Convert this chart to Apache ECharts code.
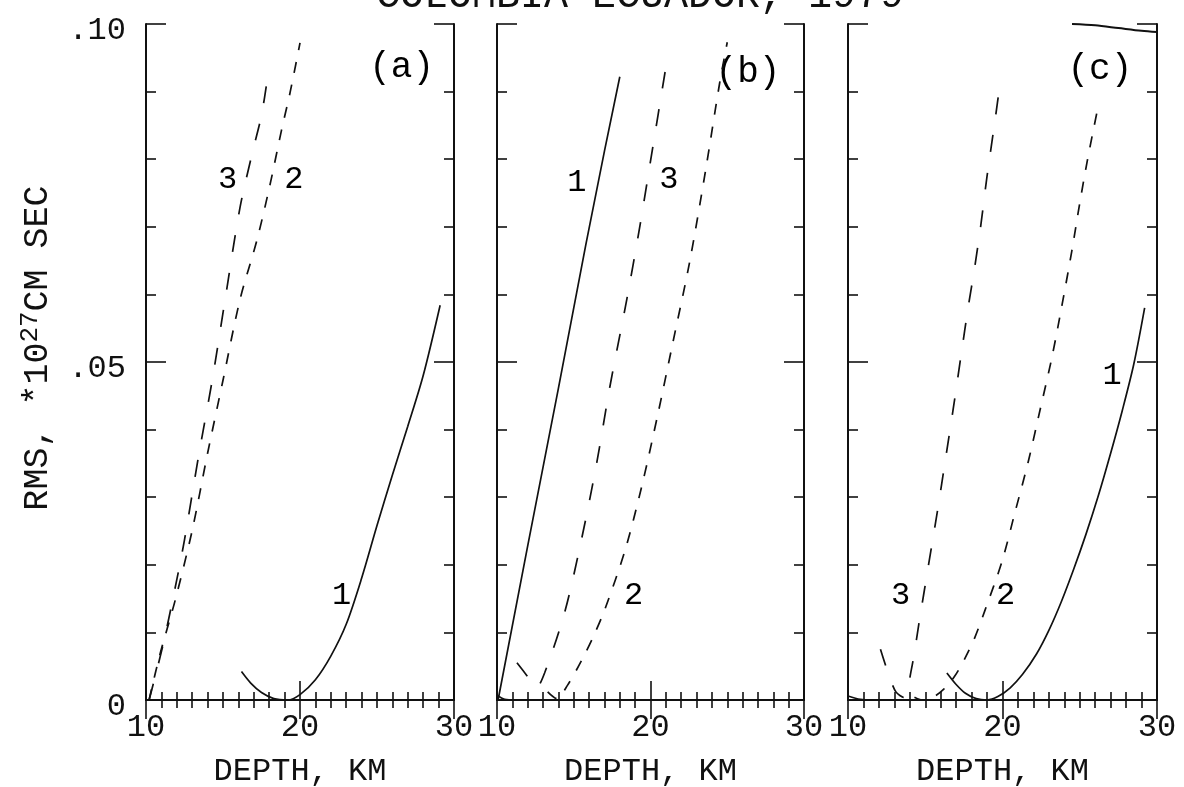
<!DOCTYPE html>
<html>
<head>
<meta charset="utf-8">
<script src="https://cdn.jsdelivr.net/npm/echarts@6/dist/echarts.min.js"></script>
<style>
html,body{margin:0;padding:0;background:#fff;}
#chart{width:1184px;height:787px;}
</style>
</head>
<body>
<div id="chart"></div>
<script>
// ---------- data ----------
const titleText = 'COLOMBIA-ECUADOR, 1979';
const xAxisName = 'DEPTH, KM';
const yTickLabels = ['0', '.05', '.10'];
const panelNames = ['(a)', '(b)', '(c)'];

// Panel (a)
const a1 = [[16.2,0.0042],[16.8,0.0025],[17.5,0.0011],[18.3,0.0002],[19.2,0.0],[20.0,0.0008],[21.0,0.003],[22.0,0.0065],[23.0,0.0112],[24.0,0.018],[25.0,0.0258],[26.0,0.0333],[27.0,0.0405],[28.0,0.048],[29.1,0.0584]];
const a2 = [[10.2,0.0],[10.9,0.0067],[11.9,0.0148],[13.0,0.0251],[14.0,0.0365],[15.0,0.0473],[16.1,0.0592],[17.2,0.068],[18.05,0.0762],[18.8,0.0843],[19.35,0.0898],[20.0,0.0972]];
const a3 = [[10.2,0.0],[11.1,0.0081],[12.0,0.0178],[12.5,0.0237],[13.4,0.0359],[14.3,0.0473],[15.1,0.0587],[16.1,0.0728],[16.9,0.0809],[17.5,0.0865],[17.9,0.0922]];
const aLabels = [['3',15.3,0.077],['2',19.6,0.077],['1',22.7,0.0155]];

// Panel (b)
const b1 = [[10.07,0.0],[12.0,0.0228],[14.0,0.0461],[15.8,0.0675],[17.0,0.0812],[18.0,0.0922]];
const b1low = [[10.0,0.0007],[10.5,0.0001],[11.2,0.0]];
const b2 = [[13.3,0.0012],[13.9,0.0002],[14.6,0.0022],[15.5,0.0058],[16.3,0.0095],[17.04,0.0135],[18.35,0.0222],[19.45,0.0318],[20.5,0.0425],[21.45,0.0528],[22.55,0.0648],[23.6,0.0785],[24.5,0.0912],[25.0,0.0973]];
const b3 = [[11.3,0.0055],[11.95,0.0036],[12.55,0.0018],[13.1,0.004],[14.4,0.0129],[15.5,0.0237],[16.5,0.0351],[17.35,0.0463],[18.45,0.0592],[19.3,0.07],[20.15,0.0818],[20.95,0.0929]];
const bLabels = [['1',15.2,0.0766],['3',21.2,0.077],['2',18.9,0.0155]];

// Panel (c)
const c1 = [[16.4,0.004],[17.0,0.0023],[17.6,0.001],[18.3,0.0002],[19.0,0.0],[19.7,0.0005],[20.5,0.0018],[21.3,0.0038],[22.2,0.0068],[23.0,0.0103],[23.8,0.0145],[24.6,0.0193],[25.4,0.0245],[26.2,0.0302],[27.0,0.0365],[27.75,0.0428],[28.5,0.0497],[29.2,0.058]];
const c1low = [[10.0,0.0006],[10.8,0.0001],[11.6,0.0]];
const cTop = [[24.5,0.1],[26.0,0.0998],[27.5,0.0994],[29.0,0.099],[30.0,0.0988]];
const c2 = [[14.3,0.0004],[14.8,0.0],[15.5,0.0004],[16.2,0.0016],[16.9,0.0035],[17.6,0.0063],[18.2,0.0092],[18.87,0.0133],[19.97,0.0205],[20.8,0.0277],[21.65,0.0351],[22.43,0.0429],[23.2,0.0507],[23.85,0.0584],[24.5,0.0666],[25.0,0.0735],[25.5,0.0799],[26.1,0.0868]];
const c3 = [[12.1,0.0075],[12.6,0.004],[13.1,0.0012],[13.6,0.0004],[14.1,0.0045],[14.66,0.0123],[15.2,0.0198],[15.8,0.0281],[16.3,0.0355],[16.8,0.0429],[17.3,0.0507],[17.8,0.0584],[18.2,0.064],[18.6,0.0703],[19.0,0.0775],[19.5,0.0855],[19.9,0.0922]];
const cLabels = [['1',27.1,0.048],['3',13.4,0.0155],['2',20.2,0.0155]];

const panelLabelPos = [[26.6,0.0935],[26.35,0.0929],[26.3,0.0932]];

// ---------- layout ----------
const FONT = 'Liberation Mono';
const INK = '#111';
const FS = 32;
const grids = [
  {left:146, top:24, width:308, height:676, outerBoundsMode:'none'},
  {left:497, top:24, width:307, height:676, outerBoundsMode:'none'},
  {left:848, top:24, width:309, height:676, outerBoundsMode:'none'}
];

const chart = echarts.init(document.getElementById('chart'));

const xAxes = [], yAxes = [], series = [];
grids.forEach((g, i) => {
  const common = {
    type:'value', min:10, max:30, interval:10, gridIndex:i,
    axisLine:{show:true, lineStyle:{color:INK, width:2}},
    splitLine:{show:false},
    axisTick:{show:true, inside:true, length:19, lineStyle:{color:INK, width:1.6}},
    minorTick:{show:true, splitNumber:10, length:8, lineStyle:{color:INK, width:1.6}}
  };
  xAxes.push(Object.assign({}, common, {
    position:'bottom',
    name:xAxisName, nameLocation:'middle', nameGap:56,
    nameTextStyle:{fontFamily:FONT, fontSize:FS, color:INK},
    axisLabel:{show:true, margin:12, fontFamily:FONT, fontSize:FS, color:INK,
      formatter: v => String(v)}
  }));
  xAxes.push(Object.assign({}, common, {position:'top', axisLabel:{show:false}}));
  const ycommon = {
    type:'value', min:0, max:0.1, interval:0.05, gridIndex:i,
    axisLine:{show:true, lineStyle:{color:INK, width:2}},
    splitLine:{show:false},
    axisTick:{show:true, inside:true, length:20, lineStyle:{color:INK, width:1.6}},
    minorTick:{show:true, splitNumber:5, length:10, lineStyle:{color:INK, width:1.6}}
  };
  const left = Object.assign({}, ycommon, {position:'left',
    axisLabel:{show:i===0, margin:20, fontFamily:FONT, fontSize:FS, color:INK,
      verticalAlign:'top', lineHeight:14,
      formatter: v => yTickLabels[Math.round(v/0.05)]}
  });
  if (i === 0) {
    left.name = '{n|RMS, *10}{s|27}{n|CM SEC}';
    left.nameLocation = 'middle';
    left.nameGap = 88;
    left.nameTextStyle = {padding:[0,0,0,28], rich:{
      n:{fontFamily:FONT, fontSize:35, color:INK},
      s:{fontFamily:FONT, fontSize:26, color:INK, verticalAlign:'top', padding:[0,0,15,0]}
    }};
  }
  yAxes.push(left);
  yAxes.push(Object.assign({}, ycommon, {position:'right', axisLabel:{show:false}}));
});

function curve(data, i, dash, width, smooth) {
  return {
    type:'line', data:data, xAxisIndex:2*i, yAxisIndex:2*i,
    showSymbol:false, symbol:'none', smooth:(smooth===undefined?0.3:smooth), silent:true,
    lineStyle:{color:INK, width:width||1.7, type:dash||'solid'},
    animation:false, clip:true
  };
}
const LONG = [17,21], SHORT = [11,12];
series.push(curve(a1,0), curve(a2,0,SHORT), curve(a3,0,LONG));
series.push(curve(b1,1,'solid',1.7,false), curve(b1low,1), curve(b2,1,SHORT), curve(b3,1,LONG));
series.push(curve(c1,2), curve(c1low,2), curve(cTop,2,'solid',2), curve(c2,2,SHORT), curve(c3,2,LONG));

function labels(list, i, fs) {
  return {
    type:'scatter', xAxisIndex:2*i, yAxisIndex:2*i, symbolSize:0, silent:true, animation:false,
    itemStyle:{opacity:1},
    data:list.map(l => ({name:l[0], value:[l[1], l[2]]})),
    label:{show:true, position:'inside', formatter: p => p.name, opacity:1,
      fontFamily:FONT, fontSize:fs||FS, color:'#000', textBorderWidth:0}
  };
}
series.push(labels(aLabels,0), labels(bLabels,1), labels(cLabels,2));
series.push(...panelNames.map((n, i) => labels([[n, panelLabelPos[i][0], panelLabelPos[i][1]]], i, 36)));

chart.setOption({
  backgroundColor:'#fff',
  animation:false,
  grid:grids,
  xAxis:xAxes,
  yAxis:yAxes,
  series:series,
  graphic:[{type:'text', x:640, y:-4,
    style:{text:titleText, fontFamily:FONT, fontSize:40, fill:INK, align:'center', verticalAlign:'middle'}}]
});
</script>
</body>
</html>
